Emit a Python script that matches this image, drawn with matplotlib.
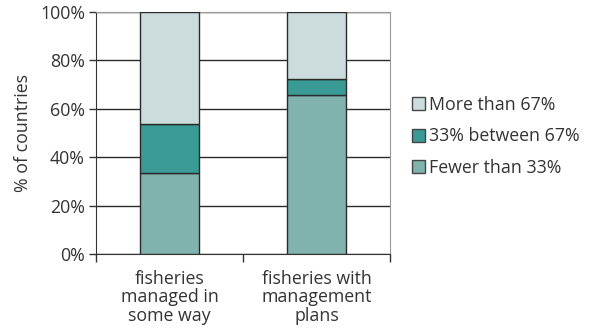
import matplotlib
matplotlib.use("Agg")
import matplotlib.pyplot as plt
from matplotlib.patches import Patch

categories = ["fisheries\nmanaged in\nsome way", "fisheries with\nmanagement\nplans"]
fewer_33 = [33.3, 65.6]
between = [20.3, 6.8]
more_67 = [46.4, 27.6]
series_names = ["Fewer than 33%", "33% between 67%", "More than 67%"]
colors = ["#80b2ae", "#3a9a96", "#ccdcdc"]
yticks = [0, 20, 40, 60, 80, 100]

FS = 12.8
plt.rcParams['font.family'] = ['Open Sans', 'DejaVu Sans']
fig = plt.figure(figsize=(5.93, 3.33), dpi=100)
ax = fig.add_axes([96/593, 1-254/333, (390-96)/593, (254-12)/333])

x = [0.5, 1.5]
w = 0.4
ax.bar(x, fewer_33, w, color=colors[0], edgecolor="#2a2a2a", linewidth=1, zorder=3)
ax.bar(x, between, w, bottom=fewer_33, color=colors[1], edgecolor="#2a2a2a", linewidth=1, zorder=3)
bot3 = [a + b for a, b in zip(fewer_33, between)]
ax.bar(x, more_67, w, bottom=bot3, color=colors[2], edgecolor="#2a2a2a", linewidth=1, zorder=3)

ax.set_xlim(0, 2)
ax.set_ylim(0, 100)
ax.set_yticks(yticks)
ax.set_yticklabels([f"{v}%" for v in yticks], fontsize=FS, color="#333333")
ax.set_xticks([0, 1, 2])
ax.set_xticklabels([])
ax.tick_params(axis='x', length=6, width=1, color="#333333", direction='out')
ax.tick_params(axis='y', length=5, width=1, color="#333333", direction='out', pad=3)
for xi, lab in zip(x, categories):
    ax.text(xi, -6.5, lab, ha='center', va='top', fontsize=FS, color="#333333",
            linespacing=1.05, transform=ax.transData)

ax.grid(axis='y', color="#2a2a2a", linewidth=1, zorder=0)
ax.spines['top'].set_color("#999999")
ax.spines['right'].set_color("#999999")
ax.spines['left'].set_color("#333333")
ax.spines['bottom'].set_color("#333333")
ax.set_ylabel("% of countries", fontsize=FS, color="#333333", labelpad=6)

handles = [Patch(facecolor=colors[i], edgecolor="#444444", label=series_names[i]) for i in [2, 1, 0]]
fig.legend(handles=handles, loc='upper left', bbox_to_anchor=(396/593, 1-80/333),
           frameon=False, fontsize=FS, handlelength=0.75, handleheight=0.75,
           handletextpad=0.2, labelspacing=0.75, labelcolor="#333333")

fig.savefig("out.png", dpi=100)
